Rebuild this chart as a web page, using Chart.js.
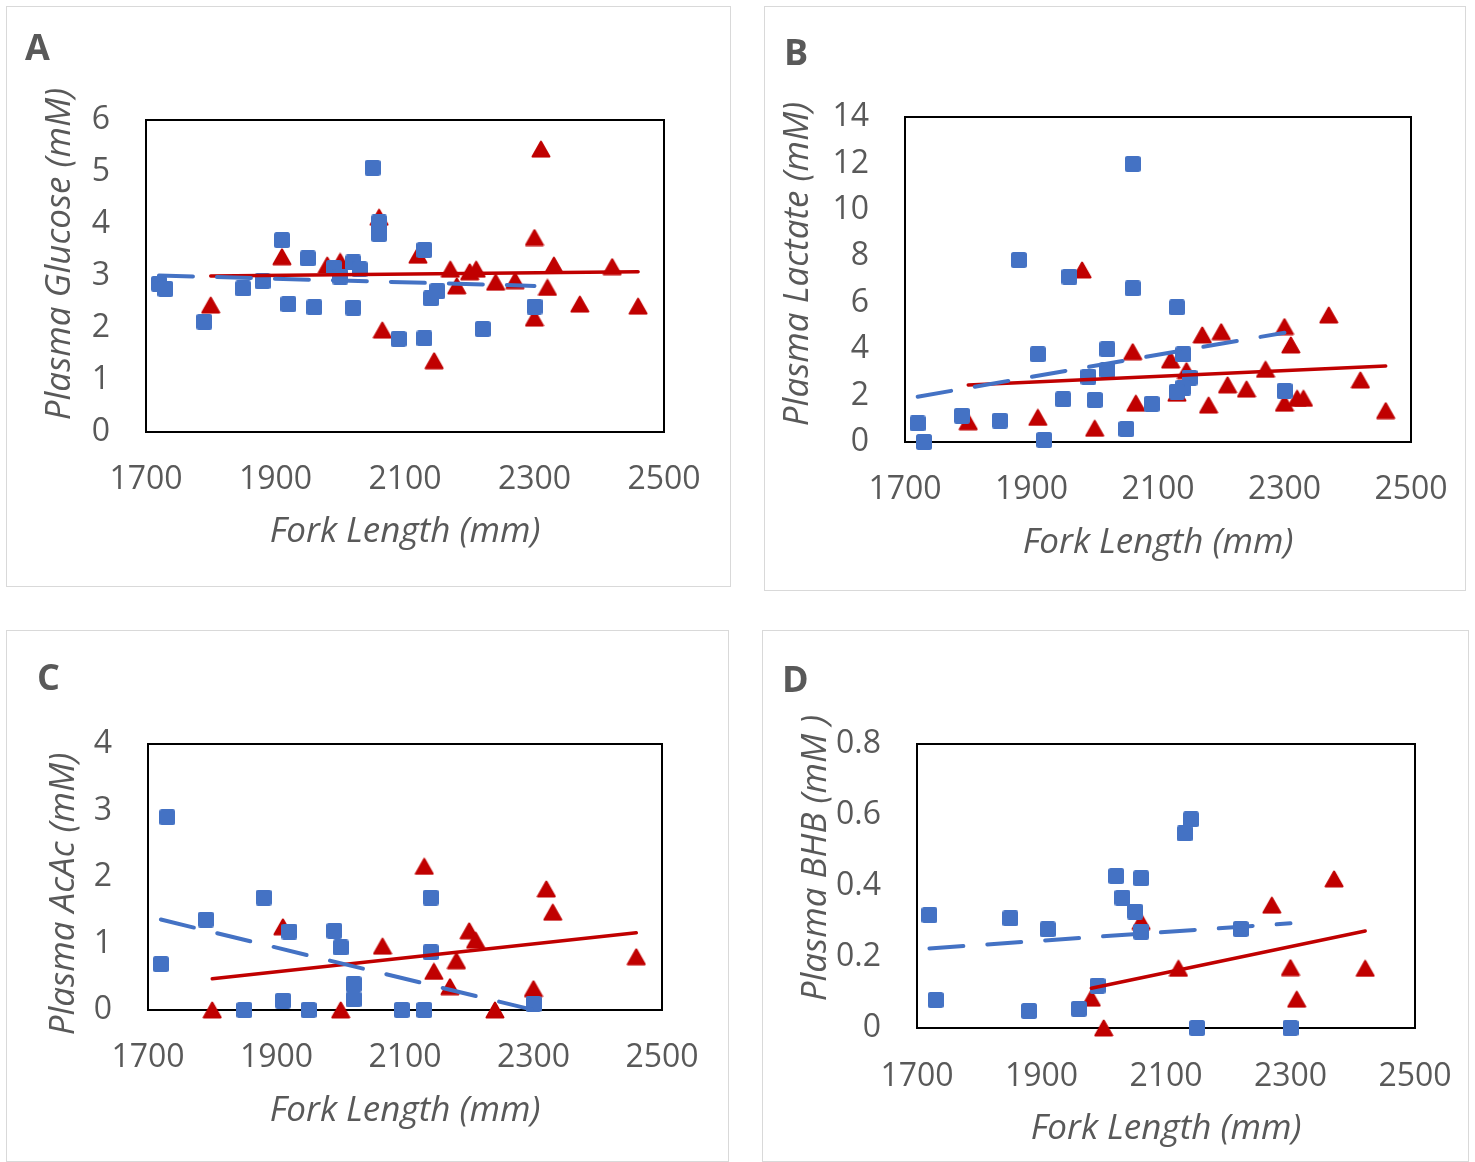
<!DOCTYPE html>
<html>
<head>
<meta charset="utf-8">
<script src="https://cdn.jsdelivr.net/npm/chart.js@4.4.1/dist/chart.umd.min.js"></script>
<style>
  body { margin:0; background:#fff; width:1475px; height:1162px; overflow:hidden; position:relative; font-family:"Open Sans", sans-serif; }
  .frame { position:absolute; box-sizing:border-box; border:1px solid #d9d9d9; }
  canvas { position:absolute; }
  .tag { position:absolute; font-weight:bold; font-size:36px; line-height:1; color:#595959; }
</style>
</head>
<body>
<script>
// fork length (mm) vs plasma values, blue = squares, red = triangles
const glucoseBlueX = [1720,1730,1790,1850,1880,1910,1920,1950,1960,1990,2000,2020,2030,2020,2050,2060,2060,2090,2130,2140,2150,2130,2220,2300];
const glucoseBlueY = [2.85,2.75,2.12,2.76,2.90,3.69,2.46,3.34,2.40,3.15,2.99,3.26,3.13,2.39,5.08,4.03,3.81,1.79,3.50,2.57,2.71,1.80,1.98,2.41];
const glucoseRedX = [1800,1910,1980,2000,2060,2065,2120,2145,2170,2180,2200,2210,2240,2270,2300,2310,2300,2320,2330,2370,2420,2460];
const glucoseRedY = [2.44,3.37,3.21,3.28,4.13,1.96,3.40,1.37,3.13,2.81,3.08,3.13,2.88,2.91,3.74,5.44,2.19,2.78,3.21,2.46,3.18,2.42];

const lactateBlueX = [1720,1730,1790,1850,1880,1910,1920,1950,1960,1990,2000,2020,2020,2050,2060,2060,2090,2130,2140,2150,2140,2130,2300];
const lactateBlueY = [0.80,0.00,1.13,0.92,7.84,3.78,0.09,1.84,7.12,2.81,1.81,4.00,3.10,0.56,11.98,6.62,1.64,5.80,3.78,2.77,2.34,2.17,2.20];
const lactateRedX = [1800,1910,1980,2000,2060,2065,2120,2145,2130,2170,2180,2200,2210,2240,2270,2300,2310,2300,2320,2330,2370,2420,2460];
const lactateRedY = [0.87,1.06,7.41,0.59,3.89,1.67,3.53,3.07,2.10,4.61,1.59,4.75,2.46,2.28,3.13,4.97,4.18,1.67,1.88,1.88,5.47,2.67,1.35];

const acacBlueX = [1730,1720,1790,1880,1920,1910,1850,1950,1990,2000,2020,2020,2095,2140,2140,2130,2300];
const acacBlueY = [2.90,0.69,1.36,1.69,1.18,0.14,0,0,1.19,0.94,0.39,0.16,0,1.69,0.87,0,0.09];
const acacRedX = [1800,1910,2000,2065,2130,2145,2170,2180,2200,2210,2240,2300,2320,2330,2460];
const acacRedY = [0,1.25,0,0.96,2.16,0.58,0.35,0.74,1.19,1.05,0,0.32,1.82,1.47,0.80];

const bhbBlueX = [1720,1730,1850,1880,1910,1960,1990,2020,2030,2050,2060,2060,2140,2130,2220,2150,2300];
const bhbBlueY = [0.318,0.079,0.309,0.048,0.278,0.054,0.119,0.428,0.367,0.328,0.422,0.271,0.588,0.548,0.279,0,0];
const bhbRedX = [1980,2000,2060,2120,2270,2300,2310,2370,2420];
const bhbRedY = [0.084,0,0.30,0.168,0.346,0.17,0.081,0.42,0.168];

// linear trend end points [x1, y1, x2, y2]
const glucoseTrend = { blue:[1720,3.01,2300,2.81], red:[1800,3.00,2460,3.08] };
const lactateTrend = { blue:[1720,1.95,2300,4.71], red:[1800,2.46,2460,3.27] };
const acacTrend = { blue:[1720,1.36,2300,0.0], red:[1800,0.47,2460,1.16] };
const bhbTrend = { blue:[1720,0.224,2300,0.295], red:[1980,0.112,2420,0.273] };

const xTicks = [1700, 2500, 200];

const BLUE = "#4472C4", RED = "#C00000", GREY = "#595959";
const FONT = "'Open Sans', sans-serif";
const TICK = 32, TITLE = 35;

function squareMarker(side){
  const c = document.createElement('canvas');
  c.width = c.height = side;
  const g = c.getContext('2d');
  g.fillStyle = BLUE;
  g.beginPath();
  g.roundRect(0, 0, side, side, 2.5);
  g.fill();
  return c;
}
function triangleMarker(w, h){
  const c = document.createElement('canvas');
  c.width = w; c.height = h;
  const g = c.getContext('2d');
  g.fillStyle = RED; g.strokeStyle = RED;
  g.lineWidth = 2; g.lineJoin = 'round';
  g.beginPath();
  g.moveTo(w/2, 1.5); g.lineTo(w-1.5, h-1.5); g.lineTo(1.5, h-1.5);
  g.closePath(); g.fill(); g.stroke();
  return c;
}
const sq = squareMarker(16);
const tri = triangleMarker(20, 18);

const pts = (xs, ys) => xs.map((x, i) => ({x: x, y: ys[i]}));
const seg = t => [{x: t[0], y: t[1]}, {x: t[2], y: t[3]}];

// black frame round the plot area, and the vertical axis title where Excel put it
const plotBox = {
  id: 'plotBox',
  beforeDatasetsDraw(chart, args, opts){
    const a = chart.chartArea, ctx = chart.ctx;
    ctx.save();
    ctx.strokeStyle = '#000';
    ctx.lineWidth = 2;
    ctx.strokeRect(a.left, a.top, a.right - a.left, a.bottom - a.top);
    ctx.translate(opts.x, opts.y);
    ctx.rotate(-Math.PI / 2);
    ctx.font = 'italic ' + TITLE + 'px ' + FONT;
    ctx.fillStyle = GREY;
    ctx.textAlign = 'center';
    ctx.textBaseline = 'middle';
    ctx.fillText(opts.text, 0, 0);
    ctx.restore();
  }
};

const panels = [
  { tag:'A', tagAt:[25,29], box:[6,6,725,581], plot:[146,120,664,432], y:[0,6,1],
    yTitle:'Plasma Glucose (mM)', yTitleAt:[60,254], xTitleY:532, tickY:480,
    blue:pts(glucoseBlueX, glucoseBlueY), red:pts(glucoseRedX, glucoseRedY), trend:glucoseTrend },
  { tag:'B', tagAt:[784,34], box:[764,6,702,585], plot:[905,117,1411,442], y:[0,14,2],
    yTitle:'Plasma Lactate (mM)', yTitleAt:[798,264], xTitleY:543, tickY:490,
    blue:pts(lactateBlueX, lactateBlueY), red:pts(lactateRedX, lactateRedY), trend:lactateTrend },
  { tag:'C', tagAt:[37,659], box:[6,630,723,532], plot:[148,744,662,1010], y:[0,4,1],
    yTitle:'Plasma AcAc (mM)', yTitleAt:[64,894], xTitleY:1111, tickY:1058,
    blue:pts(acacBlueX, acacBlueY), red:pts(acacRedX, acacRedY), trend:acacTrend },
  { tag:'D', tagAt:[782,661], box:[762,630,707,532], plot:[917,744,1415,1028], y:[0,0.8,0.2],
    yTitle:'Plasma BHB (mM )', yTitleAt:[816,858], xTitleY:1129, tickY:1077,
    blue:pts(bhbBlueX, bhbBlueY), red:pts(bhbRedX, bhbRedY), trend:bhbTrend }
];

panels.forEach(p => {
  const [bx, by, bw, bh] = p.box;
  const frame = document.createElement('div');
  frame.className = 'frame';
  Object.assign(frame.style, {left: bx+'px', top: by+'px', width: bw+'px', height: bh+'px'});
  document.body.appendChild(frame);

  const cv = document.createElement('canvas');
  cv.width = bw; cv.height = bh;
  Object.assign(cv.style, {left: bx+'px', top: by+'px', width: bw+'px', height: bh+'px'});
  document.body.appendChild(cv);

  const tag = document.createElement('div');
  tag.className = 'tag';
  tag.textContent = p.tag;
  tag.style.left = p.tagAt[0] + 'px';
  tag.style.top = p.tagAt[1] + 'px';
  document.body.appendChild(tag);

  const left = p.plot[0] - bx, top = p.plot[1] - by;
  const right = bw - (p.plot[2] - bx), bottom = bh - (p.plot[3] - by);
  const tickLH = TICK * 1.2, titleLH = TITLE * 1.2;

  new Chart(cv, {
    type: 'scatter',
    data: {
      datasets: [
        { type:'line', data: seg(p.trend.blue), borderColor: BLUE, borderWidth: 4,
          borderDash: [34, 24], borderCapStyle: 'round', pointRadius: 0, fill: false },
        { type:'line', data: seg(p.trend.red), borderColor: RED, borderWidth: 3.5,
          borderCapStyle: 'round', pointRadius: 0, fill: false },
        { data: p.blue, pointStyle: sq, pointRadius: 9 },
        { data: p.red, pointStyle: tri, pointRadius: 9 }
      ]
    },
    options: {
      responsive: false,
      animation: false,
      clip: false,
      events: [],
      layout: { padding: { left: 0, top: top, right: right, bottom: 0 } },
      plugins: {
        legend: { display: false },
        tooltip: { enabled: false },
        plotBox: { text: p.yTitle, x: p.yTitleAt[0] - bx, y: p.yTitleAt[1] - by }
      },
      scales: {
        x: {
          type: 'linear', min: xTicks[0], max: xTicks[1],
          grid: { display: false, drawTicks: false }, border: { display: false },
          ticks: { stepSize: xTicks[2], autoSkip: false, color: GREY, padding: p.tickY - p.plot[3] - tickLH/2,
                   font: { family: FONT, size: TICK }, callback: v => String(v) },
          title: { display: true, text: 'Fork Length (mm)', color: GREY,
                   font: { family: FONT, size: TITLE, style: 'italic' },
                   padding: { top: 0, bottom: (by + bh - p.xTitleY) - titleLH/2 } },
          afterFit: s => { s.height = bottom; s.paddingLeft = 0; s.paddingRight = 0; }
        },
        y: {
          type: 'linear', min: p.y[0], max: p.y[1],
          grid: { display: false, drawTicks: false }, border: { display: false },
          ticks: { stepSize: p.y[2], autoSkip: false, color: GREY, padding: 36,
                   font: { family: FONT, size: TICK } },
          afterFit: s => { s.width = left; s.paddingTop = 0; s.paddingBottom = 0; }
        }
      }
    },
    plugins: [plotBox]
  });
});
</script>
</body>
</html>
